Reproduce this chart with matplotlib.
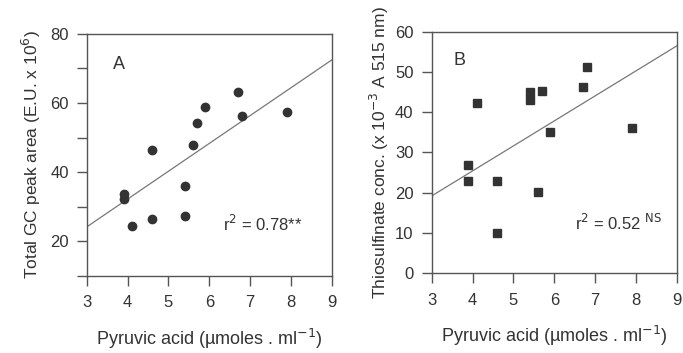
import matplotlib
matplotlib.use('Agg')
import matplotlib.pyplot as plt

plt.rcParams['font.family'] = ['Liberation Sans', 'DejaVu Sans']

# data
pyruvic = [3.9, 3.9, 4.1, 4.6, 4.6, 5.4, 5.4, 5.6, 5.7, 5.9, 6.7, 6.8, 7.9]
gc_area = [33.8, 32.4, 24.5, 46.5, 26.6, 35.9, 27.3, 47.9, 54.2, 58.8, 63.3, 56.4, 57.3]

pyruvic_b = [3.9, 3.9, 4.1, 4.6, 4.6, 5.4, 5.4, 5.6, 5.7, 5.9, 6.7, 6.8, 7.9]
thiosulf = [27.0, 23.0, 42.2, 23.0, 10.1, 45.1, 43.0, 20.1, 45.2, 35.2, 46.2, 51.2, 36.2]

# regression line ends at x = 3 and x = 9
fit_x = [3, 9]
fit_a = [24.2, 72.5]
fit_b = [19.2, 56.5]

ink = '#333333'
spine = '#555555'

fig = plt.figure(figsize=(6.83, 3.53), dpi=100)
ax_a = fig.add_axes([0.127, 0.218, 0.359, 0.686])
ax_b = fig.add_axes([0.632, 0.226, 0.359, 0.684])


def style(ax):
    for s in ax.spines.values():
        s.set_color(spine)
        s.set_linewidth(1.0)
    ax.tick_params(direction='out', length=7, width=1.0, color=spine,
                   labelsize=12, labelcolor='#333333')
    ax.tick_params(axis='y', pad=6)
    ax.tick_params(axis='x', pad=7)
    ax.set_xlim(3, 9)
    ax.set_xticks(range(3, 10))
    ax.set_xlabel('Pyruvic acid (\u00b5moles . ml$^{-1}$)', fontsize=13,
                  color='#333333', labelpad=12)


# panel A
ax_a.plot(fit_x, fit_a, color='#777777', lw=0.9)
ax_a.plot(pyruvic, gc_area, 'o', color=ink, ms=6, mec=ink)
style(ax_a)
ax_a.set_ylim(10, 80)
ax_a.set_yticks(range(10, 81, 10))
ax_a.set_yticklabels(['' if v % 20 else str(v) for v in range(10, 81, 10)])
ax_a.set_ylabel('Total GC peak area (E.U. x 10$^6$)', fontsize=12.5,
                color='#333333', labelpad=5)
ax_a.text(0.105, 0.875, 'A', transform=ax_a.transAxes, fontsize=13,
          color=ink, va='center')
ax_a.text(0.555, 0.215, 'r$^2$ = 0.78**', transform=ax_a.transAxes,
          fontsize=12, color=ink, va='center')

# panel B
ax_b.plot(fit_x, fit_b, color='#777777', lw=0.9)
ax_b.plot(pyruvic_b, thiosulf, 's', color=ink, ms=5.5, mec=ink)
style(ax_b)
ax_b.set_ylim(0, 60)
ax_b.set_yticks(range(0, 61, 10))
ax_b.set_ylabel('Thiosulfinate conc. (x 10$^{-3}$ A 515 nm)', fontsize=12.5,
                color='#333333', labelpad=3)
ax_b.text(0.09, 0.88, 'B', transform=ax_b.transAxes, fontsize=13,
          color=ink, va='center')
ax_b.text(0.585, 0.21, 'r$^2$ = 0.52 $^{\\rm NS}$', transform=ax_b.transAxes,
          fontsize=12, color=ink, va='center')

plt.savefig('out.png', dpi=100)
